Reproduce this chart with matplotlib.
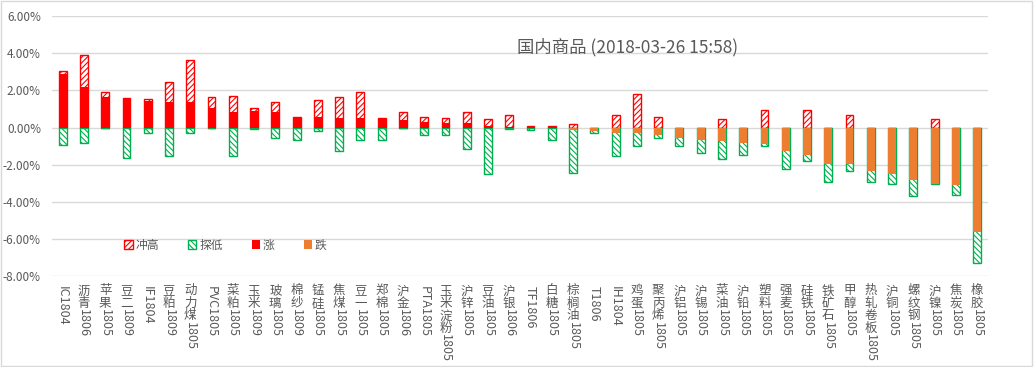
import re
import matplotlib
matplotlib.use("Agg")
import matplotlib.pyplot as plt
from matplotlib.patches import Patch, Rectangle

plt.rcParams['font.family'] = ['Noto Sans CJK SC', 'DejaVu Sans']
plt.rcParams['hatch.linewidth'] = 0.8

names = ["IC1804", "沥青1806", "苹果1805", "豆二1809", "IF1804", "豆粕1809", "动力煤1805",
         "PVC1805", "菜粕1805", "玉米1809", "玻璃1805", "棉纱1809", "锰硅1805", "焦煤1805",
         "豆一1805", "郑棉1805", "沪金1806", "PTA1805", "玉米淀粉1805", "沪锌1805", "豆油1805",
         "沪银1806", "TF1806", "白糖1805", "棕榈油1805", "T1806", "IH1804", "鸡蛋1805",
         "聚丙烯1805", "沪铝1805", "沪锡1805", "菜油1805", "沪铅1805", "塑料1805", "强麦1805",
         "硅铁1805", "铁矿石1805", "甲醇1805", "热轧卷板1805", "沪铜1805", "螺纹钢1805",
         "沪镍1805", "焦炭1805", "橡胶1805"]
# percent change: high, low, close
high = [3.03, 3.88, 1.89, 1.58, 1.53, 2.43, 3.66, 1.67, 1.72, 1.04, 1.35, 0.56, 1.47, 1.67,
        1.89, 0.50, 0.81, 0.59, 0.50, 0.86, 0.45, 0.70, 0.07, 0.07, 0.21, 0.0, 0.70, 1.78,
        0.59, 0.0, 0.0, 0.45, 0.0, 0.92, 0.0, 0.92, 0.0, 0.70, 0.0, 0.0, 0.0, 0.45, 0.0, 0.0]
low = [-0.92, -0.86, 0.0, -1.62, -0.32, -1.51, -0.27, 0.0, -1.51, -0.07, -0.54, -0.65, -0.20, -1.24,
       -0.70, -0.67, 0.0, -0.38, -0.38, -1.15, -2.53, -0.07, -0.13, -0.70, -2.45, -0.27, -1.56, -1.02,
       -0.54, -0.97, -1.37, -1.67, -1.46, -1.02, -2.21, -1.78, -2.91, -2.32, -2.91, -3.07, -3.67,
       -3.07, -3.61, -7.28]
close = [2.87, 2.16, 1.65, 1.58, 1.45, 1.36, 1.36, 1.06, 0.82, 0.88, 0.82, 0.56, 0.57, 0.52,
         0.50, 0.45, 0.39, 0.29, 0.23, 0.23, 0.07, 0.01, 0.04, 0.03, -0.16, -0.18, -0.32, -0.32,
         -0.40, -0.56, -0.67, -0.72, -0.85, -0.90, -1.28, -1.49, -1.94, -1.98, -2.36, -2.52, -2.84,
         -3.07, -3.11, -5.63]
y_ticks = [6, 4, 2, 0, -2, -4, -6, -8]

RED = "#ff0000"
GREEN = "#00b050"
ORANGE = "#ed7d31"
GRAY = "#595959"

fig = plt.figure(figsize=(10.34, 3.67), dpi=100)
ax = fig.add_axes([0.0503, 0.248, 0.905, 0.708])

x = list(range(len(names)))
w = 0.37
up = [c if c > 0 else 0 for c in close]
down = [c if c < 0 else 0 for c in close]

ax.bar(x, high, width=w, color="white", edgecolor=RED, hatch="//////", linewidth=1, zorder=2)
ax.bar(x, low, width=w, color="white", edgecolor=GREEN, hatch="\\\\\\\\\\\\", linewidth=1, zorder=2)
ax.bar(x, up, width=w, color=RED, linewidth=0, zorder=3)
ax.bar(x, down, width=w, color=ORANGE, linewidth=0, zorder=3)

ax.set_xlim(-0.5, len(names) - 0.5)
ax.set_ylim(-8, 6)
ax.set_yticks(y_ticks)
ax.set_yticklabels([f"{t:.2f}%" for t in y_ticks], color=GRAY, fontsize=8.5)
ax.tick_params(axis="y", length=0, pad=8)
ax.set_xticks([])
ax.grid(axis="y", color="#d9d9d9", linewidth=1, zorder=0)
ax.set_axisbelow(True)
for s in ax.spines.values():
    s.set_visible(False)

# vertical labels: CJK upright and stacked, latin part rotated
fs = 9
trans = ax.get_xaxis_transform()
for i, name in enumerate(names):
    m = re.match(r"^([^\x00-\x7f]*)(.*)$", name)
    cjk, rest = m.group(1), m.group(2)
    off = 6
    for ch in cjk:
        ax.annotate(ch, xy=(i, 0), xycoords=trans, xytext=(0, -off), textcoords="offset points",
                    ha="center", va="top", fontsize=fs, color=GRAY)
        off += fs * 1.0
    if rest:
        shift = 0 if cjk else -1
        ax.annotate(rest, xy=(i, 0), xycoords=trans, xytext=(0, -off + shift), textcoords="offset points",
                    ha="left", va="center", rotation=270, rotation_mode="anchor",
                    fontsize=fs, color=GRAY)

fig.text(0.607, 0.872, "国内商品 (2018-03-26 15:58)", ha="center", va="center",
         fontsize=12.5, color=GRAY)

handles = [Patch(facecolor="white", edgecolor=RED, hatch="//////", label="冲高"),
           Patch(facecolor="white", edgecolor=GREEN, hatch="\\\\\\\\\\\\", label="探低"),
           Patch(facecolor=RED, label="涨"),
           Patch(facecolor=ORANGE, label="跌")]
leg = fig.legend(handles=handles, loc="center", bbox_to_anchor=(0.218, 0.332), ncol=4,
                 frameon=False, fontsize=8.5, handlelength=0.7, handleheight=0.7,
                 handletextpad=0.25, columnspacing=2.45, labelcolor=GRAY)

fig.patches.append(Rectangle((0.001, 0.002), 0.997, 0.995, transform=fig.transFigure,
                             fill=False, edgecolor="#d9d9d9", linewidth=1))

fig.savefig("out.png", dpi=100)
